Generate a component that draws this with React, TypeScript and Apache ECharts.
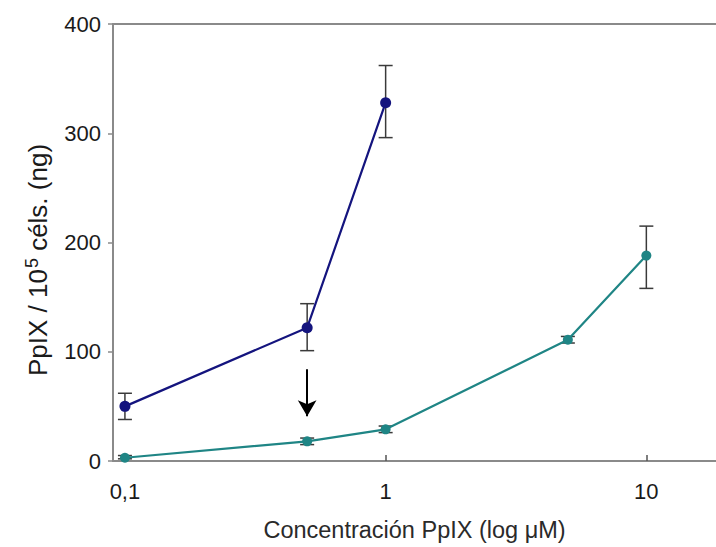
import React, { useEffect, useRef } from "react";
import * as echarts from "echarts";

const xTicks = [0.1, 1, 10];
const yTicks = [0, 100, 200, 300, 400];

const seriesA_x = [0.1, 0.5, 1];
const seriesA_y = [50, 122, 328];
const seriesA_lo = [38, 101, 296];
const seriesA_hi = [62, 144, 362];

const seriesB_x = [0.1, 0.5, 1, 5, 10];
const seriesB_y = [3, 18, 29, 111, 188];
const seriesB_lo = [2, 15, 26, 108, 158];
const seriesB_hi = [5, 21, 32, 114, 215];

const arrowX = 0.5;
const arrowFrom = 84;
const arrowTo = 41;

const xTitle = "Concentración PpIX (log μM)";
const yTitle = "PpIX / 10{sup|5} céls. (ng)";

const navy = "#14147e";
const teal = "#1f8585";
const FONT = "Liberation Sans, Arial, sans-serif";

function errorSeries(xs: number[], lo: number[], hi: number[]) {
  return {
    type: "custom",
    z: 1,
    silent: true,
    data: xs.map((x, i) => [x, lo[i], hi[i]]),
    renderItem: (params: any, api: any) => {
      const x = api.value(0);
      const pLo = api.coord([x, api.value(1)]);
      const pHi = api.coord([x, api.value(2)]);
      const w = 7;
      const style = { stroke: "#3a3a3a", lineWidth: 1.5 };
      return {
        type: "group",
        children: [
          { type: "line", shape: { x1: pLo[0], y1: pLo[1], x2: pHi[0], y2: pHi[1] }, style },
          { type: "line", shape: { x1: pLo[0] - w, y1: pLo[1], x2: pLo[0] + w, y2: pLo[1] }, style },
          { type: "line", shape: { x1: pHi[0] - w, y1: pHi[1], x2: pHi[0] + w, y2: pHi[1] }, style },
        ],
      };
    },
  };
}

export default function App() {
  const ref = useRef<HTMLDivElement>(null);
  useEffect(() => {
    if (!ref.current) return;
    const chart = echarts.init(ref.current, undefined, { renderer: "svg" });
    const axisColor = "#8a8a8a";
    chart.setOption({
      animation: false,
      backgroundColor: "#ffffff",
      textStyle: { fontFamily: FONT },
      grid: { left: 113, top: 24, right: 0, bottom: 85, containLabel: false },
      graphic: [
        {
          type: "text",
          x: 38,
          y: 260,
          rotation: Math.PI / 2,
          silent: true,
          style: {
            text: yTitle,
            align: "center",
            verticalAlign: "middle",
            fontSize: 26,
            fontFamily: FONT,
            fill: "#1a1a1a",
            rich: {
              sup: { fontSize: 18, fontFamily: FONT, fill: "#1a1a1a", verticalAlign: "top", padding: [0, 0, 12, 1] },
            },
          },
        },
      ],
      xAxis: [
        {
          type: "log",
          logBase: 10,
          min: 0.09,
          max: 18.5,
          name: xTitle,
          nameLocation: "middle",
          nameGap: 57,
          nameTextStyle: { fontSize: 23.5, color: "#2a2a2a", fontFamily: FONT },
          axisLine: { show: true, lineStyle: { color: axisColor, width: 2 } },
          axisTick: { show: true, inside: true, length: 6, customValues: xTicks, lineStyle: { color: "#555", width: 1.5 } },
          minorTick: { show: false },
          axisLabel: {
            customValues: xTicks,
            fontSize: 22,
            color: "#1a1a1a",
            margin: 19,
            formatter: (v: number) => String(v).replace(".", ","),
          },
          splitLine: { show: false },
        },
        {
          type: "log",
          logBase: 10,
          min: 0.09,
          max: 18.5,
          position: "top",
          axisLine: { show: true, lineStyle: { color: axisColor, width: 2 } },
          axisTick: { show: false },
          axisLabel: { show: false },
          splitLine: { show: false },
        },
      ],
      yAxis: {
        type: "value",
        min: 0,
        max: 400,
        interval: 100,
        axisLine: { show: true, lineStyle: { color: axisColor, width: 2 } },
        axisTick: { show: true, inside: false, length: 5, lineStyle: { color: axisColor, width: 1.5 } },
        axisLabel: {
          fontSize: 22,
          color: "#1a1a1a",
          margin: 12,
          formatter: (v: number) => (yTicks.includes(v) ? String(v) : ""),
        },
        splitLine: { show: false },
      },
      series: [
        errorSeries(seriesA_x, seriesA_lo, seriesA_hi),
        errorSeries(seriesB_x, seriesB_lo, seriesB_hi),
        {
          type: "line",
          z: 3,
          data: seriesA_x.map((x, i) => [x, seriesA_y[i]]),
          symbol: "circle",
          symbolSize: 11,
          itemStyle: { color: navy },
          lineStyle: { color: navy, width: 2.2 },
          markLine: {
            silent: true,
            symbol: ["none", "arrow"],
            symbolSize: [14, 16],
            label: { show: false },
            lineStyle: { color: "#000", width: 2, type: "solid" },
            data: [[{ coord: [arrowX, arrowFrom] }, { coord: [arrowX, arrowTo] }]],
          },
        },
        {
          type: "line",
          z: 3,
          data: seriesB_x.map((x, i) => [x, seriesB_y[i]]),
          symbol: "circle",
          symbolSize: 10,
          itemStyle: { color: teal },
          lineStyle: { color: teal, width: 2.2 },
        },
      ],
    });
    return () => chart.dispose();
  }, []);
  return <div ref={ref} style={{ position: "fixed", left: 0, top: 0, width: 716, height: 547 }} />;
}
